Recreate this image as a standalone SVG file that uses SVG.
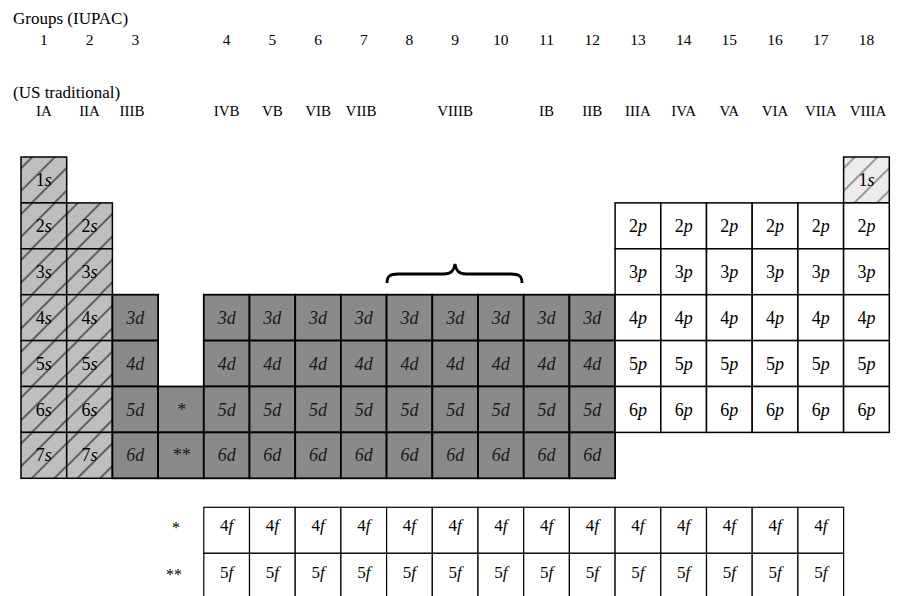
<svg xmlns="http://www.w3.org/2000/svg" width="907" height="596" viewBox="0 0 907 596">
<style>
.hdr{font-family:"Liberation Serif","Times New Roman",serif;font-size:17px;fill:#000}
.num{font-family:"Liberation Serif","Times New Roman",serif;font-size:15.5px;fill:#000;text-anchor:middle}
.rom{font-family:"Liberation Serif","Times New Roman",serif;font-size:15px;fill:#000;text-anchor:middle}
.t{font-family:"Liberation Serif","Times New Roman",serif;font-size:18px;fill:#000;text-anchor:middle}
.td{font-family:"Liberation Serif","Times New Roman",serif;font-size:18px;fill:#1a1a1a;text-anchor:middle;font-style:italic}
.tf{font-family:"Liberation Serif","Times New Roman",serif;font-size:17px;fill:#000;text-anchor:middle}
.i{font-style:italic}
.s{fill:url(#sPat);stroke:#000;stroke-width:1.5}
.he{fill:url(#hPat);stroke:#000;stroke-width:1.5}
.d{fill:#8a8a8a;stroke:#000;stroke-width:1.8}
.p{fill:#fff;stroke:#000;stroke-width:1.5}
.f{fill:#fff;stroke:#000;stroke-width:1.2}
.star{font-family:"Liberation Serif","Times New Roman",serif;font-size:16px;fill:#000;text-anchor:end}
</style>
<defs>
<pattern id="sPat" patternUnits="userSpaceOnUse" width="16" height="16" patternTransform="rotate(-45)">
<rect width="16" height="16" fill="#bebebe"/>
<line x1="0" y1="8" x2="16" y2="8" stroke="#000" stroke-width="1"/>
</pattern>
<pattern id="hPat" patternUnits="userSpaceOnUse" width="16" height="16" patternTransform="rotate(-45)">
<rect width="16" height="16" fill="#ececec"/>
<line x1="0" y1="8" x2="16" y2="8" stroke="#333" stroke-width="0.9"/>
</pattern>
</defs>

<g id="headers">
<text class="hdr" x="13" y="24">Groups (IUPAC)</text>
<text class="num" x="43.85" y="45">1</text>
<text class="num" x="89.55" y="45">2</text>
<text class="num" x="135.25" y="45">3</text>
<text class="num" x="226.65" y="45">4</text>
<text class="num" x="272.35" y="45">5</text>
<text class="num" x="318.05" y="45">6</text>
<text class="num" x="363.75" y="45">7</text>
<text class="num" x="409.45" y="45">8</text>
<text class="num" x="455.15" y="45">9</text>
<text class="num" x="500.85" y="45">10</text>
<text class="num" x="546.55" y="45">11</text>
<text class="num" x="592.25" y="45">12</text>
<text class="num" x="637.95" y="45">13</text>
<text class="num" x="683.65" y="45">14</text>
<text class="num" x="729.35" y="45">15</text>
<text class="num" x="775.05" y="45">16</text>
<text class="num" x="820.75" y="45">17</text>
<text class="num" x="866.45" y="45">18</text>
<text class="hdr" x="13" y="98">(US traditional)</text>
<text class="rom" x="43.85" y="116">IA</text>
<text class="rom" x="89.55" y="116">IIA</text>
<text class="rom" x="132" y="116">IIIB</text>
<text class="rom" x="226.65" y="116">IVB</text>
<text class="rom" x="272.35" y="116">VB</text>
<text class="rom" x="318.05" y="116">VIB</text>
<text class="rom" x="361" y="116">VIIB</text>
<text class="rom" x="455.15" y="116">VIIIB</text>
<text class="rom" x="546.55" y="116">IB</text>
<text class="rom" x="592.25" y="116">IIB</text>
<text class="rom" x="637.95" y="116">IIIA</text>
<text class="rom" x="683.65" y="116">IVA</text>
<text class="rom" x="729.35" y="116">VA</text>
<text class="rom" x="775.05" y="116">VIA</text>
<text class="rom" x="820.75" y="116">VIIA</text>
<text class="rom" x="868" y="116">VIIIA</text>
</g>

<g id="brace">
<path d="M387,283 C387,276 390,274 398,274 L444,274 C451,274 454,271 455,264 C456,271 459,274 466,274 L511,274 C519,274 522,276 522,283" fill="none" stroke="#000" stroke-width="2.8"/>
</g>

<g id="s-block">
<g id="s1-1" transform="translate(21,157)"><rect class="s" width="45.7" height="45.9"/><text class="t" x="22.85" y="29">1<tspan class="i">s</tspan></text></g>
<g id="s1-2" transform="translate(21,202.9)"><rect class="s" width="45.7" height="45.9"/><text class="t" x="22.85" y="29">2<tspan class="i">s</tspan></text></g>
<g id="s1-3" transform="translate(21,248.8)"><rect class="s" width="45.7" height="45.9"/><text class="t" x="22.85" y="29">3<tspan class="i">s</tspan></text></g>
<g id="s1-4" transform="translate(21,294.7)"><rect class="s" width="45.7" height="45.9"/><text class="t" x="22.85" y="29">4<tspan class="i">s</tspan></text></g>
<g id="s1-5" transform="translate(21,340.6)"><rect class="s" width="45.7" height="45.9"/><text class="t" x="22.85" y="29">5<tspan class="i">s</tspan></text></g>
<g id="s1-6" transform="translate(21,386.5)"><rect class="s" width="45.7" height="45.9"/><text class="t" x="22.85" y="29">6<tspan class="i">s</tspan></text></g>
<g id="s1-7" transform="translate(21,432.4)"><rect class="s" width="45.7" height="45.9"/><text class="t" x="22.85" y="29">7<tspan class="i">s</tspan></text></g>
<g id="s2-2" transform="translate(66.7,202.9)"><rect class="s" width="45.7" height="45.9"/><text class="t" x="22.85" y="29">2<tspan class="i">s</tspan></text></g>
<g id="s2-3" transform="translate(66.7,248.8)"><rect class="s" width="45.7" height="45.9"/><text class="t" x="22.85" y="29">3<tspan class="i">s</tspan></text></g>
<g id="s2-4" transform="translate(66.7,294.7)"><rect class="s" width="45.7" height="45.9"/><text class="t" x="22.85" y="29">4<tspan class="i">s</tspan></text></g>
<g id="s2-5" transform="translate(66.7,340.6)"><rect class="s" width="45.7" height="45.9"/><text class="t" x="22.85" y="29">5<tspan class="i">s</tspan></text></g>
<g id="s2-6" transform="translate(66.7,386.5)"><rect class="s" width="45.7" height="45.9"/><text class="t" x="22.85" y="29">6<tspan class="i">s</tspan></text></g>
<g id="s2-7" transform="translate(66.7,432.4)"><rect class="s" width="45.7" height="45.9"/><text class="t" x="22.85" y="29">7<tspan class="i">s</tspan></text></g>
<g id="he-1" transform="translate(843.6,157)"><rect class="he" width="45.7" height="45.9"/><text class="t" x="22.85" y="29">1<tspan class="i">s</tspan></text></g>
</g>

<g id="d-block">
<g id="d3-4" transform="translate(112.4,294.7)"><rect class="d" width="45.7" height="45.9"/><text class="td" x="22.85" y="29">3d</text></g>
<g id="d3-5" transform="translate(112.4,340.6)"><rect class="d" width="45.7" height="45.9"/><text class="td" x="22.85" y="29">4d</text></g>
<g id="d3-6" transform="translate(112.4,386.5)"><rect class="d" width="45.7" height="45.9"/><text class="td" x="22.85" y="29">5d</text></g>
<g id="d3-7" transform="translate(112.4,432.4)"><rect class="d" width="45.7" height="45.9"/><text class="td" x="22.85" y="29">6d</text></g>
<g id="lan" transform="translate(158.1,386.5)"><rect class="d" width="45.7" height="45.9"/><text class="td" x="22.85" y="29">*</text></g>
<g id="act" transform="translate(158.1,432.4)"><rect class="d" width="45.7" height="45.9"/><text class="td" x="22.85" y="29">**</text></g>
<g id="d4-4" transform="translate(203.8,294.7)"><rect class="d" width="45.7" height="45.9"/><text class="td" x="22.85" y="29">3d</text></g>
<g id="d4-5" transform="translate(203.8,340.6)"><rect class="d" width="45.7" height="45.9"/><text class="td" x="22.85" y="29">4d</text></g>
<g id="d4-6" transform="translate(203.8,386.5)"><rect class="d" width="45.7" height="45.9"/><text class="td" x="22.85" y="29">5d</text></g>
<g id="d4-7" transform="translate(203.8,432.4)"><rect class="d" width="45.7" height="45.9"/><text class="td" x="22.85" y="29">6d</text></g>
<g id="d5-4" transform="translate(249.5,294.7)"><rect class="d" width="45.7" height="45.9"/><text class="td" x="22.85" y="29">3d</text></g>
<g id="d5-5" transform="translate(249.5,340.6)"><rect class="d" width="45.7" height="45.9"/><text class="td" x="22.85" y="29">4d</text></g>
<g id="d5-6" transform="translate(249.5,386.5)"><rect class="d" width="45.7" height="45.9"/><text class="td" x="22.85" y="29">5d</text></g>
<g id="d5-7" transform="translate(249.5,432.4)"><rect class="d" width="45.7" height="45.9"/><text class="td" x="22.85" y="29">6d</text></g>
<g id="d6-4" transform="translate(295.2,294.7)"><rect class="d" width="45.7" height="45.9"/><text class="td" x="22.85" y="29">3d</text></g>
<g id="d6-5" transform="translate(295.2,340.6)"><rect class="d" width="45.7" height="45.9"/><text class="td" x="22.85" y="29">4d</text></g>
<g id="d6-6" transform="translate(295.2,386.5)"><rect class="d" width="45.7" height="45.9"/><text class="td" x="22.85" y="29">5d</text></g>
<g id="d6-7" transform="translate(295.2,432.4)"><rect class="d" width="45.7" height="45.9"/><text class="td" x="22.85" y="29">6d</text></g>
<g id="d7-4" transform="translate(340.9,294.7)"><rect class="d" width="45.7" height="45.9"/><text class="td" x="22.85" y="29">3d</text></g>
<g id="d7-5" transform="translate(340.9,340.6)"><rect class="d" width="45.7" height="45.9"/><text class="td" x="22.85" y="29">4d</text></g>
<g id="d7-6" transform="translate(340.9,386.5)"><rect class="d" width="45.7" height="45.9"/><text class="td" x="22.85" y="29">5d</text></g>
<g id="d7-7" transform="translate(340.9,432.4)"><rect class="d" width="45.7" height="45.9"/><text class="td" x="22.85" y="29">6d</text></g>
<g id="d8-4" transform="translate(386.6,294.7)"><rect class="d" width="45.7" height="45.9"/><text class="td" x="22.85" y="29">3d</text></g>
<g id="d8-5" transform="translate(386.6,340.6)"><rect class="d" width="45.7" height="45.9"/><text class="td" x="22.85" y="29">4d</text></g>
<g id="d8-6" transform="translate(386.6,386.5)"><rect class="d" width="45.7" height="45.9"/><text class="td" x="22.85" y="29">5d</text></g>
<g id="d8-7" transform="translate(386.6,432.4)"><rect class="d" width="45.7" height="45.9"/><text class="td" x="22.85" y="29">6d</text></g>
<g id="d9-4" transform="translate(432.3,294.7)"><rect class="d" width="45.7" height="45.9"/><text class="td" x="22.85" y="29">3d</text></g>
<g id="d9-5" transform="translate(432.3,340.6)"><rect class="d" width="45.7" height="45.9"/><text class="td" x="22.85" y="29">4d</text></g>
<g id="d9-6" transform="translate(432.3,386.5)"><rect class="d" width="45.7" height="45.9"/><text class="td" x="22.85" y="29">5d</text></g>
<g id="d9-7" transform="translate(432.3,432.4)"><rect class="d" width="45.7" height="45.9"/><text class="td" x="22.85" y="29">6d</text></g>
<g id="d10-4" transform="translate(478,294.7)"><rect class="d" width="45.7" height="45.9"/><text class="td" x="22.85" y="29">3d</text></g>
<g id="d10-5" transform="translate(478,340.6)"><rect class="d" width="45.7" height="45.9"/><text class="td" x="22.85" y="29">4d</text></g>
<g id="d10-6" transform="translate(478,386.5)"><rect class="d" width="45.7" height="45.9"/><text class="td" x="22.85" y="29">5d</text></g>
<g id="d10-7" transform="translate(478,432.4)"><rect class="d" width="45.7" height="45.9"/><text class="td" x="22.85" y="29">6d</text></g>
<g id="d11-4" transform="translate(523.7,294.7)"><rect class="d" width="45.7" height="45.9"/><text class="td" x="22.85" y="29">3d</text></g>
<g id="d11-5" transform="translate(523.7,340.6)"><rect class="d" width="45.7" height="45.9"/><text class="td" x="22.85" y="29">4d</text></g>
<g id="d11-6" transform="translate(523.7,386.5)"><rect class="d" width="45.7" height="45.9"/><text class="td" x="22.85" y="29">5d</text></g>
<g id="d11-7" transform="translate(523.7,432.4)"><rect class="d" width="45.7" height="45.9"/><text class="td" x="22.85" y="29">6d</text></g>
<g id="d12-4" transform="translate(569.4,294.7)"><rect class="d" width="45.7" height="45.9"/><text class="td" x="22.85" y="29">3d</text></g>
<g id="d12-5" transform="translate(569.4,340.6)"><rect class="d" width="45.7" height="45.9"/><text class="td" x="22.85" y="29">4d</text></g>
<g id="d12-6" transform="translate(569.4,386.5)"><rect class="d" width="45.7" height="45.9"/><text class="td" x="22.85" y="29">5d</text></g>
<g id="d12-7" transform="translate(569.4,432.4)"><rect class="d" width="45.7" height="45.9"/><text class="td" x="22.85" y="29">6d</text></g>
</g>

<g id="p-block">
<g id="p13-2" transform="translate(615.1,202.9)"><rect class="p" width="45.7" height="45.9"/><text class="t" x="22.85" y="29">2<tspan class="i">p</tspan></text></g>
<g id="p13-3" transform="translate(615.1,248.8)"><rect class="p" width="45.7" height="45.9"/><text class="t" x="22.85" y="29">3<tspan class="i">p</tspan></text></g>
<g id="p13-4" transform="translate(615.1,294.7)"><rect class="p" width="45.7" height="45.9"/><text class="t" x="22.85" y="29">4<tspan class="i">p</tspan></text></g>
<g id="p13-5" transform="translate(615.1,340.6)"><rect class="p" width="45.7" height="45.9"/><text class="t" x="22.85" y="29">5<tspan class="i">p</tspan></text></g>
<g id="p13-6" transform="translate(615.1,386.5)"><rect class="p" width="45.7" height="45.9"/><text class="t" x="22.85" y="29">6<tspan class="i">p</tspan></text></g>
<g id="p14-2" transform="translate(660.8,202.9)"><rect class="p" width="45.7" height="45.9"/><text class="t" x="22.85" y="29">2<tspan class="i">p</tspan></text></g>
<g id="p14-3" transform="translate(660.8,248.8)"><rect class="p" width="45.7" height="45.9"/><text class="t" x="22.85" y="29">3<tspan class="i">p</tspan></text></g>
<g id="p14-4" transform="translate(660.8,294.7)"><rect class="p" width="45.7" height="45.9"/><text class="t" x="22.85" y="29">4<tspan class="i">p</tspan></text></g>
<g id="p14-5" transform="translate(660.8,340.6)"><rect class="p" width="45.7" height="45.9"/><text class="t" x="22.85" y="29">5<tspan class="i">p</tspan></text></g>
<g id="p14-6" transform="translate(660.8,386.5)"><rect class="p" width="45.7" height="45.9"/><text class="t" x="22.85" y="29">6<tspan class="i">p</tspan></text></g>
<g id="p15-2" transform="translate(706.5,202.9)"><rect class="p" width="45.7" height="45.9"/><text class="t" x="22.85" y="29">2<tspan class="i">p</tspan></text></g>
<g id="p15-3" transform="translate(706.5,248.8)"><rect class="p" width="45.7" height="45.9"/><text class="t" x="22.85" y="29">3<tspan class="i">p</tspan></text></g>
<g id="p15-4" transform="translate(706.5,294.7)"><rect class="p" width="45.7" height="45.9"/><text class="t" x="22.85" y="29">4<tspan class="i">p</tspan></text></g>
<g id="p15-5" transform="translate(706.5,340.6)"><rect class="p" width="45.7" height="45.9"/><text class="t" x="22.85" y="29">5<tspan class="i">p</tspan></text></g>
<g id="p15-6" transform="translate(706.5,386.5)"><rect class="p" width="45.7" height="45.9"/><text class="t" x="22.85" y="29">6<tspan class="i">p</tspan></text></g>
<g id="p16-2" transform="translate(752.2,202.9)"><rect class="p" width="45.7" height="45.9"/><text class="t" x="22.85" y="29">2<tspan class="i">p</tspan></text></g>
<g id="p16-3" transform="translate(752.2,248.8)"><rect class="p" width="45.7" height="45.9"/><text class="t" x="22.85" y="29">3<tspan class="i">p</tspan></text></g>
<g id="p16-4" transform="translate(752.2,294.7)"><rect class="p" width="45.7" height="45.9"/><text class="t" x="22.85" y="29">4<tspan class="i">p</tspan></text></g>
<g id="p16-5" transform="translate(752.2,340.6)"><rect class="p" width="45.7" height="45.9"/><text class="t" x="22.85" y="29">5<tspan class="i">p</tspan></text></g>
<g id="p16-6" transform="translate(752.2,386.5)"><rect class="p" width="45.7" height="45.9"/><text class="t" x="22.85" y="29">6<tspan class="i">p</tspan></text></g>
<g id="p17-2" transform="translate(797.9,202.9)"><rect class="p" width="45.7" height="45.9"/><text class="t" x="22.85" y="29">2<tspan class="i">p</tspan></text></g>
<g id="p17-3" transform="translate(797.9,248.8)"><rect class="p" width="45.7" height="45.9"/><text class="t" x="22.85" y="29">3<tspan class="i">p</tspan></text></g>
<g id="p17-4" transform="translate(797.9,294.7)"><rect class="p" width="45.7" height="45.9"/><text class="t" x="22.85" y="29">4<tspan class="i">p</tspan></text></g>
<g id="p17-5" transform="translate(797.9,340.6)"><rect class="p" width="45.7" height="45.9"/><text class="t" x="22.85" y="29">5<tspan class="i">p</tspan></text></g>
<g id="p17-6" transform="translate(797.9,386.5)"><rect class="p" width="45.7" height="45.9"/><text class="t" x="22.85" y="29">6<tspan class="i">p</tspan></text></g>
<g id="p18-2" transform="translate(843.6,202.9)"><rect class="p" width="45.7" height="45.9"/><text class="t" x="22.85" y="29">2<tspan class="i">p</tspan></text></g>
<g id="p18-3" transform="translate(843.6,248.8)"><rect class="p" width="45.7" height="45.9"/><text class="t" x="22.85" y="29">3<tspan class="i">p</tspan></text></g>
<g id="p18-4" transform="translate(843.6,294.7)"><rect class="p" width="45.7" height="45.9"/><text class="t" x="22.85" y="29">4<tspan class="i">p</tspan></text></g>
<g id="p18-5" transform="translate(843.6,340.6)"><rect class="p" width="45.7" height="45.9"/><text class="t" x="22.85" y="29">5<tspan class="i">p</tspan></text></g>
<g id="p18-6" transform="translate(843.6,386.5)"><rect class="p" width="45.7" height="45.9"/><text class="t" x="22.85" y="29">6<tspan class="i">p</tspan></text></g>
</g>

<g id="f-block">
<text class="star" x="180" y="533">*</text>
<text class="star" x="182" y="580">**</text>
<g id="f4-row"><rect class="f" x="203.8" y="507.3" width="45.7" height="46"/><text class="tf" x="226.65" y="531">4<tspan class="i">f</tspan></text></g>
<g id="f5-row"><rect class="f" x="249.5" y="507.3" width="45.7" height="46"/><text class="tf" x="272.35" y="531">4<tspan class="i">f</tspan></text></g>
<g id="f6-row"><rect class="f" x="295.2" y="507.3" width="45.7" height="46"/><text class="tf" x="318.05" y="531">4<tspan class="i">f</tspan></text></g>
<g id="f7-row"><rect class="f" x="340.9" y="507.3" width="45.7" height="46"/><text class="tf" x="363.75" y="531">4<tspan class="i">f</tspan></text></g>
<g id="f8-row"><rect class="f" x="386.6" y="507.3" width="45.7" height="46"/><text class="tf" x="409.45" y="531">4<tspan class="i">f</tspan></text></g>
<g id="f9-row"><rect class="f" x="432.3" y="507.3" width="45.7" height="46"/><text class="tf" x="455.15" y="531">4<tspan class="i">f</tspan></text></g>
<g id="f10-row"><rect class="f" x="478" y="507.3" width="45.7" height="46"/><text class="tf" x="500.85" y="531">4<tspan class="i">f</tspan></text></g>
<g id="f11-row"><rect class="f" x="523.7" y="507.3" width="45.7" height="46"/><text class="tf" x="546.55" y="531">4<tspan class="i">f</tspan></text></g>
<g id="f12-row"><rect class="f" x="569.4" y="507.3" width="45.7" height="46"/><text class="tf" x="592.25" y="531">4<tspan class="i">f</tspan></text></g>
<g id="f13-row"><rect class="f" x="615.1" y="507.3" width="45.7" height="46"/><text class="tf" x="637.95" y="531">4<tspan class="i">f</tspan></text></g>
<g id="f14-row"><rect class="f" x="660.8" y="507.3" width="45.7" height="46"/><text class="tf" x="683.65" y="531">4<tspan class="i">f</tspan></text></g>
<g id="f15-row"><rect class="f" x="706.5" y="507.3" width="45.7" height="46"/><text class="tf" x="729.35" y="531">4<tspan class="i">f</tspan></text></g>
<g id="f16-row"><rect class="f" x="752.2" y="507.3" width="45.7" height="46"/><text class="tf" x="775.05" y="531">4<tspan class="i">f</tspan></text></g>
<g id="f17-row"><rect class="f" x="797.9" y="507.3" width="45.7" height="46"/><text class="tf" x="820.75" y="531">4<tspan class="i">f</tspan></text></g>
<g id="a4-row"><rect class="f" x="203.8" y="553.3" width="45.7" height="46"/><text class="tf" x="226.65" y="578">5<tspan class="i">f</tspan></text></g>
<g id="a5-row"><rect class="f" x="249.5" y="553.3" width="45.7" height="46"/><text class="tf" x="272.35" y="578">5<tspan class="i">f</tspan></text></g>
<g id="a6-row"><rect class="f" x="295.2" y="553.3" width="45.7" height="46"/><text class="tf" x="318.05" y="578">5<tspan class="i">f</tspan></text></g>
<g id="a7-row"><rect class="f" x="340.9" y="553.3" width="45.7" height="46"/><text class="tf" x="363.75" y="578">5<tspan class="i">f</tspan></text></g>
<g id="a8-row"><rect class="f" x="386.6" y="553.3" width="45.7" height="46"/><text class="tf" x="409.45" y="578">5<tspan class="i">f</tspan></text></g>
<g id="a9-row"><rect class="f" x="432.3" y="553.3" width="45.7" height="46"/><text class="tf" x="455.15" y="578">5<tspan class="i">f</tspan></text></g>
<g id="a10-row"><rect class="f" x="478" y="553.3" width="45.7" height="46"/><text class="tf" x="500.85" y="578">5<tspan class="i">f</tspan></text></g>
<g id="a11-row"><rect class="f" x="523.7" y="553.3" width="45.7" height="46"/><text class="tf" x="546.55" y="578">5<tspan class="i">f</tspan></text></g>
<g id="a12-row"><rect class="f" x="569.4" y="553.3" width="45.7" height="46"/><text class="tf" x="592.25" y="578">5<tspan class="i">f</tspan></text></g>
<g id="a13-row"><rect class="f" x="615.1" y="553.3" width="45.7" height="46"/><text class="tf" x="637.95" y="578">5<tspan class="i">f</tspan></text></g>
<g id="a14-row"><rect class="f" x="660.8" y="553.3" width="45.7" height="46"/><text class="tf" x="683.65" y="578">5<tspan class="i">f</tspan></text></g>
<g id="a15-row"><rect class="f" x="706.5" y="553.3" width="45.7" height="46"/><text class="tf" x="729.35" y="578">5<tspan class="i">f</tspan></text></g>
<g id="a16-row"><rect class="f" x="752.2" y="553.3" width="45.7" height="46"/><text class="tf" x="775.05" y="578">5<tspan class="i">f</tspan></text></g>
<g id="a17-row"><rect class="f" x="797.9" y="553.3" width="45.7" height="46"/><text class="tf" x="820.75" y="578">5<tspan class="i">f</tspan></text></g>
</g>
</svg>
